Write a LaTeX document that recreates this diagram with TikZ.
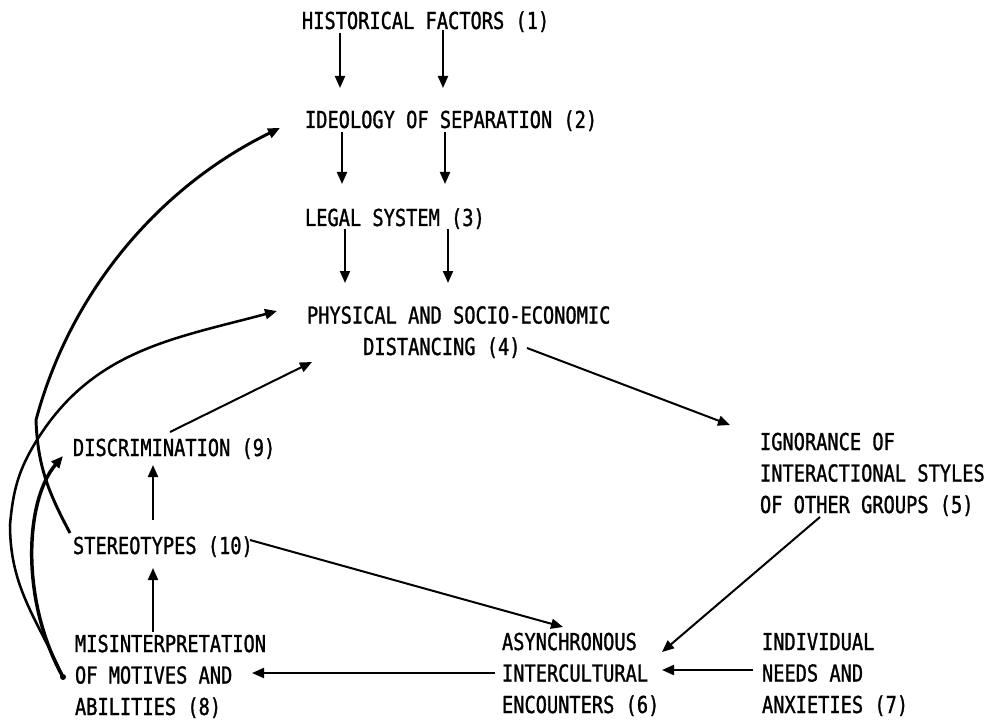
\documentclass[tikz,border=0pt]{standalone}
\usepackage{fontspec}
\newfontfamily\plotfont[FakeStretch=0.8,FakeBold=1.2]{DejaVu Sans Mono}
\usetikzlibrary{arrows.meta}
\begin{document}
\begin{tikzpicture}[x=0.75pt,y=-0.75pt,
  lbl/.style={anchor=base west,inner sep=0pt,outer sep=0pt,align=left,
    font=\plotfont\fontsize{17.5}{23.6}\selectfont},
  arr/.style={line width=1.5pt,-{Triangle[length=9pt,width=7.5pt]}},
  carr/.style={line width=2.2pt,-{Triangle[length=9pt,width=7.5pt]}}]
\useasboundingbox (0,0) rectangle (984,720);
% single-line nodes: anchored at baseline; multi-line nodes: anchored at baseline of last line
\node[lbl] (n1) at (302,29) {HISTORICAL FACTORS (1)};
\node[lbl] (n2) at (305,128) {IDEOLOGY OF SEPARATION (2)};
\node[lbl] (n3) at (305,226) {LEGAL SYSTEM (3)};
\node[lbl] (n4) at (307,355) {PHYSICAL AND SOCIO-ECONOMIC\\\phantom{AAAAA}DISTANCING (4)};
\node[lbl] (n5) at (760,513) {IGNORANCE OF\\INTERACTIONAL STYLES\\OF OTHER GROUPS (5)};
\node[lbl] (n6) at (502,713) {ASYNCHRONOUS\\INTERCULTURAL\\ENCOUNTERS (6)};
\node[lbl] (n7) at (762,713) {INDIVIDUAL\\NEEDS AND\\ANXIETIES (7)};
\node[lbl] (n8) at (75,715) {MISINTERPRETATION\\OF MOTIVES AND\\ABILITIES (8)};
\node[lbl] (n9) at (73,456) {DISCRIMINATION (9)};
\node[lbl] (n10) at (73,554) {STEREOTYPES (10)};

\draw[arr] ([shift={(38,4)}]n1.base west) -- ([shift={(35,-40)}]n2.base west);
\draw[arr] ([shift={(141,1)}]n1.base west) -- ([shift={(138,-40)}]n2.base west);
\draw[arr] ([shift={(37,4)}]n2.base west) -- ([shift={(37,-42)}]n3.base west);
\draw[arr] ([shift={(140,4)}]n2.base west) -- ([shift={(140,-42)}]n3.base west);
\draw[arr] ([shift={(40,3)}]n3.base west) -- ([shift={(38,-72)}]n4.base west);
\draw[arr] ([shift={(143,3)}]n3.base west) -- ([shift={(141,-72)}]n4.base west);
\draw[arr] ([shift={(220,-7)}]n4.base west) -- ([shift={(-30,-88)}]n5.base west);
\draw[arr] ([shift={(60,4)}]n5.base west) -- ([shift={(160,-61)}]n6.base west);
\draw[arr] ([shift={(-9,-43)}]n7.base west) -- ([shift={(160,-43)}]n6.base west);
\draw[arr] ([shift={(-7,-40)}]n6.base west) -- ([shift={(177,-42)}]n8.base west);
\draw[arr] ([shift={(177,-14)}]n10.base west) -- ([shift={(61,-86)}]n6.base west);
\draw[arr] ([shift={(78,-83)}]n8.base west) -- ([shift={(80,14)}]n10.base west);
\draw[arr] ([shift={(80,-34)}]n10.base west) -- ([shift={(80,9)}]n9.base west);
\draw[arr] ([shift={(97,-24)}]n9.base west) -- ([shift={(5,7)}]n4.base west);

\draw[carr] ([shift={(-3,-21)}]n10.base west) to[out=118,in=-88] (36,420)
  to[out=75,in=206,looseness=0.9] ([shift={(-25,0)}]n2.base west);
\draw[carr,line width=1.9pt] ([shift={(-12,-38)}]n8.base west) to[out=114,in=-90] (10,525)
  to[out=85,in=-122] (37,440) to[out=58,in=195] ([shift={(-30,-44)}]n4.base west);
\draw[carr,line width=2.6pt] ([shift={(-12,-38)}]n8.base west) .. controls (20,600) and (25,500) .. ([shift={(-10,0)}]n9.base west);
\fill ([shift={(-12,-38)}]n8.base west) circle (3);
\end{tikzpicture}
\end{document}
